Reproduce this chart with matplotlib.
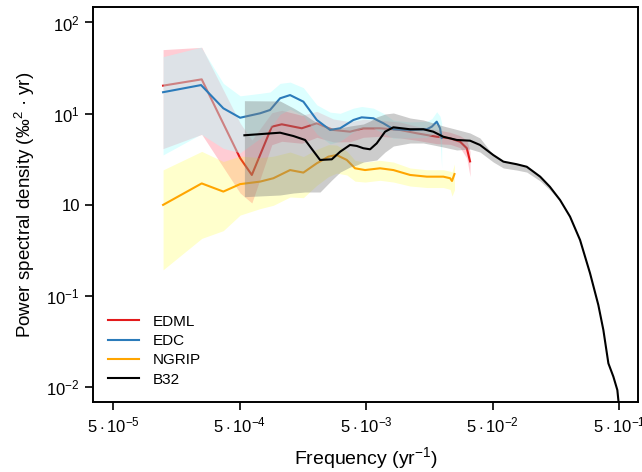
import matplotlib
matplotlib.use('Agg')
import matplotlib.pyplot as plt

plt.rcParams['font.family'] = ['Liberation Sans', 'DejaVu Sans']
plt.rcParams['mathtext.fontset'] = 'custom'
plt.rcParams['mathtext.rm'] = 'Liberation Sans'
plt.rcParams['mathtext.it'] = 'Liberation Sans:italic'
plt.rcParams['mathtext.bf'] = 'Liberation Sans:bold'

# EDML
edml_f = [1.242e-4, 2.51e-4, 5.05e-4, 6.25e-4, 8.99e-4, 1.078e-3, 1.551e-3, 2.04e-3, 2.757e-3, 3.735e-3,
          4.76e-3, 6.45e-3, 9.28e-3, 1.258e-2, 1.81e-2, 2.31e-2, 2.77e-2, 3.13e-2, 3.32e-2]
edml_psd = [20.3, 23.8, 3.26, 2.13, 7.20, 7.65, 6.92, 7.85, 6.63, 6.35,
            6.92, 6.92, 6.63, 6.10, 5.59, 5.37, 4.93, 4.18, 3.0]
edml_hi = [50.4, 53.4, 7.89, 5.15, 10.25, 10.9, 9.6, 10.6, 8.75, 8.17,
           8.68, 8.47, 8.1, 7.28, 6.67, 6.25, 5.74, 5.12, 3.86]
edml_lo = [4.14, 5.94, 1.35, 1.05, 4.57, 4.98, 4.74, 5.51, 4.90, 4.93,
           5.51, 5.65, 5.42, 5.11, 4.69, 4.61, 4.24, 3.25, 2.05]

# EDC
edc_f = [1.242e-4, 2.48e-4, 3.72e-4, 5.05e-4, 7.26e-4, 8.71e-4, 1.045e-3, 1.254e-3, 1.597e-3, 2.04e-3,
         2.60e-3, 3.12e-3, 3.97e-3, 4.62e-3, 5.71e-3, 6.86e-3, 8.22e-3, 1.114e-2, 1.51e-2, 1.654e-2,
         1.81e-2, 1.923e-2, 1.98e-2]
edc_psd = [17.2, 20.6, 11.46, 9.03, 10.1, 10.98, 14.75, 16.0, 13.55, 8.53,
           6.63, 6.92, 8.53, 9.12, 8.91, 7.85, 6.75, 6.63, 6.75, 7.20,
           8.17, 6.92, 5.41]
edc_hi = [42.2, 53.7, 21.5, 15.7, 16.7, 17.3, 21.5, 22.2, 19.3, 12.5,
          10.4, 10.1, 11.5, 12.0, 11.5, 10.1, 8.47, 8.12, 8.26, 8.81,
          10.5, 9.37, 7.90]
edc_lo = [3.53, 5.97, 4.17, 3.73, 5.37, 6.97, 9.85, 11.2, 9.52, 5.99,
          4.66, 4.99, 6.30, 6.91, 6.92, 6.10, 5.38, 5.42, 5.51, 5.88,
          6.35, 5.11, 2.54]

# NGRIP
ngrip_f = [1.242e-4, 2.51e-4, 3.72e-4, 5.05e-4, 7.26e-4, 9.25e-4, 1.254e-3, 1.597e-3, 2.04e-3, 2.52e-3,
           2.93e-3, 3.52e-3, 4.09e-3, 4.91e-3, 6.45e-3, 8.22e-3, 1.114e-2, 1.51e-2, 2.04e-2, 2.31e-2,
           2.39e-2, 2.50e-2]
ngrip_psd = [1.0, 1.72, 1.40, 1.69, 1.80, 1.96, 2.41, 2.26, 2.86, 3.38,
             3.52, 3.11, 2.52, 2.41, 2.52, 2.41, 2.13, 2.04, 2.04, 1.96,
             1.83, 2.18]
ngrip_hi = [2.42, 3.86, 2.99, 3.43, 3.30, 3.42, 3.80, 3.39, 4.07, 4.58,
            4.53, 3.90, 3.08, 2.95, 3.08, 2.95, 2.54, 2.43, 2.43, 2.34,
            2.30, 2.81]
ngrip_lo = [0.194, 0.429, 0.522, 0.773, 0.91, 0.99, 1.22, 1.20, 1.64, 2.04,
            2.23, 2.13, 1.82, 1.78, 1.86, 1.78, 1.61, 1.55, 1.55, 1.48,
            1.25, 1.46]

# B32
b32_f = [5.46e-4, 1.045e-3, 1.332e-3, 1.648e-3, 2.164e-3, 2.68e-3, 3.12e-3, 3.735e-3, 4.22e-3, 4.76e-3,
         5.38e-3, 6.07e-3, 7.07e-3, 8.22e-3, 1.114e-2, 1.419e-2, 1.70e-2, 2.04e-2, 2.61e-2, 3.32e-2,
         3.98e-2, 5.07e-2, 6.09e-2, 7.77e-2, 9.32e-2, 0.119, 0.142, 0.171, 0.205, 0.246,
         0.295, 0.343, 0.376, 0.412, 0.451, 0.485, 0.50]
b32_psd = [5.80, 6.19, 5.69, 5.15, 3.11, 3.16, 3.83, 4.54, 4.43, 4.18,
           4.07, 4.73, 6.35, 7.09, 6.75, 6.75, 6.35, 5.59, 5.15, 5.06,
           4.54, 3.52, 2.98, 2.79, 2.62, 2.04, 1.58, 1.13, 0.743, 0.412,
           0.178, 0.080, 0.0425, 0.0183, 0.0131, 0.00933, 0.00612]
b32_hi = [13.88, 13.78, 11.55, 9.68, 7.52, 6.97, 6.97, 7.33, 7.52, 7.71,
          8.32, 9.20, 9.92, 10.18, 8.97, 8.53, 7.91, 7.33, 6.71, 6.14,
          5.41, 3.52, 2.95, 2.79, 2.62, 2.04, 1.58, 1.13, 0.743, 0.412,
          0.178, 0.080, 0.0425, 0.0183, 0.0131, 0.00933, 0.00612]
b32_lo = [1.23, 1.284, 1.35, 1.385, 1.385, 1.875, 2.29, 2.60, 2.74, 2.95,
          3.03, 3.11, 3.80, 4.42, 4.77, 4.77, 4.54, 4.31, 4.00, 4.10,
          3.80, 2.95, 2.54, 2.41, 2.29, 1.83, 1.46, 1.10, 0.743, 0.412,
          0.178, 0.080, 0.0425, 0.0183, 0.0131, 0.00933, 0.00612]

xticks = [5e-5, 5e-4, 5e-3, 5e-2, 5e-1]
xtick_labels = [r'$5\cdot10^{-5}$', r'$5\cdot10^{-4}$', r'$5\cdot10^{-3}$', r'$5\cdot10^{-2}$', r'$5\cdot10^{-1}$']
yticks = [1e2, 1e1, 1e0, 1e-1, 1e-2]
ytick_labels = [r'$10^2$', r'$10^1$', '10', r'$10^{-1}$', r'$10^{-2}$']

fig = plt.figure(figsize=(6.42, 4.72), dpi=100)
ax = fig.add_axes([0.1449, 0.1483, 0.8489, 0.8369])
ax.set_xscale('log')
ax.set_yscale('log')

# kolejnosc: pasmo, potem linia - kolejne pasma przykrywaja wczesniejsze linie (zorder!)
ax.fill_between(edml_f, edml_lo, edml_hi, color='#ff9aaa', alpha=0.5, lw=0, zorder=1)
ax.plot(edml_f, edml_psd, color='#e31a1c', lw=1.5, label='EDML', zorder=2)
ax.fill_between(edc_f, edc_lo, edc_hi, color='#b4ffff', alpha=0.45, lw=0, zorder=3)
ax.plot(edc_f, edc_psd, color='#2b7bba', lw=1.5, label='EDC', zorder=4)
ax.fill_between(ngrip_f, ngrip_lo, ngrip_hi, color='yellow', alpha=0.2, lw=0, zorder=5)
ax.plot(ngrip_f, ngrip_psd, color='#ffa500', lw=1.5, label='NGRIP', zorder=6)
ax.fill_between(b32_f, b32_lo, b32_hi, color='#808080', alpha=0.4, lw=0, zorder=7)
ax.plot(b32_f, b32_psd, color='black', lw=1.5, label='B32', zorder=8)

ax.set_xlim(3.47e-5, 0.7066)
ax.set_ylim(0.0069, 147.9)
ax.set_xticks(xticks)
ax.set_xticklabels(xtick_labels)
ax.set_yticks(yticks)
ax.set_yticklabels(ytick_labels)
ax.minorticks_off()
ax.tick_params(axis='both', direction='out', length=5.5, width=1.2, labelsize=12, pad=4)
for s in ax.spines.values():
    s.set_linewidth(1.4)

ax.set_xlabel('Frequency (yr$^{-1}$)', fontsize=14, labelpad=7)
ax.set_ylabel('Power spectral density (‰$^{2}$ · yr)', fontsize=13.5, labelpad=7)

ax.legend(loc='lower left', frameon=False, fontsize=11, handlelength=2.0, handletextpad=0.9,
          labelspacing=0.35, borderaxespad=0.6)

plt.savefig('out.png', dpi=100)
